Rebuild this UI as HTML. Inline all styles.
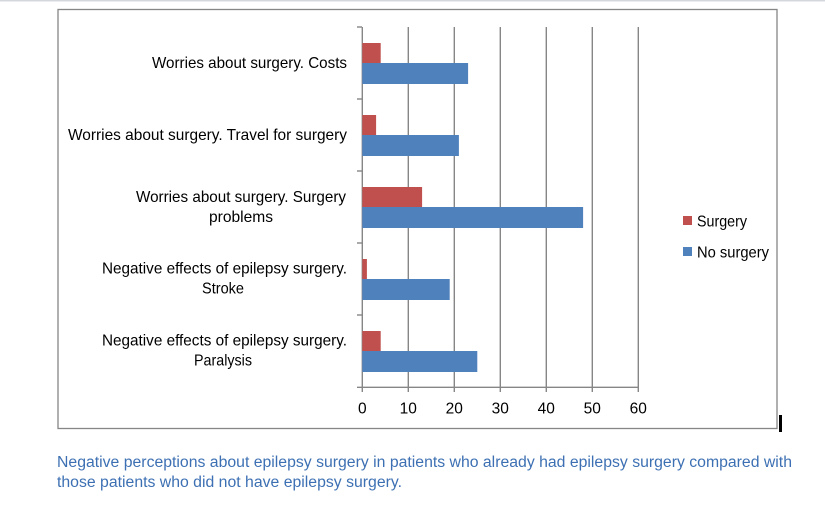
<!DOCTYPE html>
<html>
<head>
<meta charset="utf-8">
<style>
html,body{margin:0;padding:0;background:#fff;}
svg{display:block;}
text{font-family:"Liberation Sans",sans-serif;}
</style>
</head>
<body>
<svg width="825" height="505" viewBox="0 0 825 505" xmlns="http://www.w3.org/2000/svg">
  <rect x="0" y="0" width="825" height="505" fill="#fff"/>
  <!-- top page line -->
  <rect x="0" y="0" width="825" height="1.5" fill="#d4d8de"/>
  <!-- chart border -->
  <rect x="58" y="9.5" width="719" height="419" fill="none" stroke="#868686" stroke-width="1.3"/>

  <!-- gridlines -->
  <g stroke="#868686" stroke-width="1.4">
    <line x1="408.3" y1="27" x2="408.3" y2="392"/>
    <line x1="454.3" y1="27" x2="454.3" y2="392"/>
    <line x1="500.3" y1="27" x2="500.3" y2="392"/>
    <line x1="546.3" y1="27" x2="546.3" y2="392"/>
    <line x1="592.3" y1="27" x2="592.3" y2="392"/>
    <line x1="638.3" y1="27" x2="638.3" y2="392"/>
    <!-- axes -->
    <line x1="362.3" y1="27" x2="362.3" y2="392"/>
    <line x1="357" y1="387.3" x2="638.3" y2="387.3"/>
    <!-- left ticks -->
    <line x1="357" y1="27" x2="362" y2="27"/>
    <line x1="357" y1="99" x2="362" y2="99"/>
    <line x1="357" y1="171" x2="362" y2="171"/>
    <line x1="357" y1="243" x2="362" y2="243"/>
    <line x1="357" y1="315" x2="362" y2="315"/>
  </g>

  <!-- bars -->
  <g>
    <rect x="362.3" y="43" width="18.4" height="20" fill="#c0504d"/>
    <rect x="362.3" y="63" width="105.8" height="21" fill="#4f81bd"/>

    <rect x="362.3" y="115" width="13.8" height="20" fill="#c0504d"/>
    <rect x="362.3" y="135" width="96.6" height="21" fill="#4f81bd"/>

    <rect x="362.3" y="187" width="59.8" height="20" fill="#c0504d"/>
    <rect x="362.3" y="207" width="220.8" height="21" fill="#4f81bd"/>

    <rect x="362.3" y="259" width="4.6" height="20" fill="#c0504d"/>
    <rect x="362.3" y="279" width="87.4" height="21" fill="#4f81bd"/>

    <rect x="362.3" y="331" width="18.4" height="20" fill="#c0504d"/>
    <rect x="362.3" y="351" width="115" height="21" fill="#4f81bd"/>
  </g>

  <!-- category labels -->
  <g font-size="16" fill="#000">
    <text x="152" y="68" textLength="195" lengthAdjust="spacingAndGlyphs">Worries about surgery. Costs</text>
    <text x="68" y="140" textLength="279" lengthAdjust="spacingAndGlyphs">Worries about surgery. Travel for surgery</text>
    <text x="136" y="202" textLength="210" lengthAdjust="spacingAndGlyphs">Worries about surgery. Surgery</text>
    <text x="209" y="222" textLength="64" lengthAdjust="spacingAndGlyphs">problems</text>
    <text x="102" y="273.5" textLength="245" lengthAdjust="spacingAndGlyphs">Negative effects of epilepsy surgery.</text>
    <text x="202" y="293.5" textLength="42" lengthAdjust="spacingAndGlyphs">Stroke</text>
    <text x="102" y="345.5" textLength="245" lengthAdjust="spacingAndGlyphs">Negative effects of epilepsy surgery.</text>
    <text x="194" y="365.5" textLength="58" lengthAdjust="spacingAndGlyphs">Paralysis</text>
  </g>

  <!-- x tick labels -->
  <g font-size="15.5" fill="#000" text-anchor="middle">
    <text x="362.3" y="413.5">0</text>
    <text x="408.3" y="413.5">10</text>
    <text x="454.3" y="413.5">20</text>
    <text x="500.3" y="413.5">30</text>
    <text x="546.3" y="413.5">40</text>
    <text x="592.3" y="413.5">50</text>
    <text x="638.3" y="413.5">60</text>
  </g>

  <!-- legend -->
  <rect x="683" y="216" width="9" height="9" fill="#c0504d"/>
  <text x="697" y="226.5" font-size="16" fill="#000" textLength="50" lengthAdjust="spacingAndGlyphs">Surgery</text>
  <rect x="683" y="247" width="9" height="9" fill="#4f81bd"/>
  <text x="697" y="257.5" font-size="16" fill="#000" textLength="72" lengthAdjust="spacingAndGlyphs">No surgery</text>

  <!-- cursor bar -->
  <rect x="779" y="415" width="3" height="17" fill="#000"/>

  <!-- caption -->
  <g font-size="15.5" fill="#3d70b3">
    <text x="57" y="467" textLength="735" lengthAdjust="spacingAndGlyphs">Negative perceptions about epilepsy surgery in patients who already had epilepsy surgery compared with</text>
    <text x="57" y="487" textLength="345" lengthAdjust="spacingAndGlyphs">those patients who did not have epilepsy surgery.</text>
  </g>
</svg>
</body>
</html>
